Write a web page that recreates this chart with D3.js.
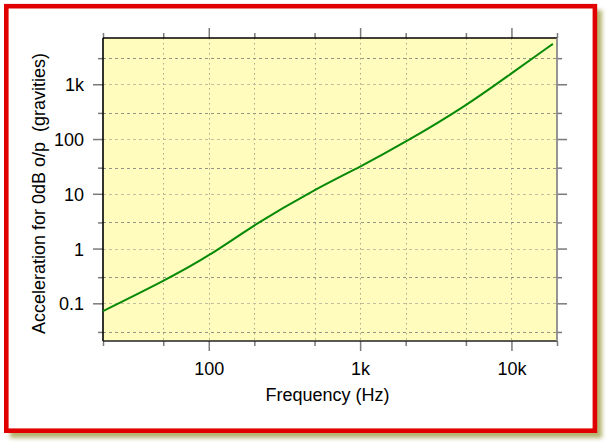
<!DOCTYPE html>
<html>
<head>
<meta charset="utf-8">
<script src="https://cdn.jsdelivr.net/npm/d3@7"></script>
<style>
  html, body { margin: 0; padding: 0; background: #ffffff; }
  svg { display: block; }
  text { font-family: "Liberation Sans", Arial, Helvetica, sans-serif; fill: #000; }
</style>
</head>
<body>
<svg id="chart" width="609" height="446"></svg>
<script>
// ---- data ----
const frequencyHz = [20, 50, 100, 200, 500, 1000, 2000, 5000, 10000, 18800];
const accelerationG = [0.072, 0.252, 0.72, 2.75, 12.0, 31, 88, 400, 1590, 5460];

const xMajorTicks = [100, 1000, 10000];
const xMinorTicks = [20, 50, 200, 500, 2000, 5000, 20000];
const yMajorTicks = [0.1, 1, 10, 100, 1000];
const yMinorTicks = [0.03, 0.3, 3, 30, 300, 3000];
const tickLabel = {0.1: "0.1", 1: "1", 10: "10", 100: "100", 1000: "1k", 10000: "10k"};

const xTitle = "Frequency (Hz)";
const yTitle = "Acceleration for 0dB o/p  (gravities)";

// ---- layout ----
const svg = d3.select("#chart");
const plot = {left: 103, right: 557, top: 38, bottom: 341};

const x = d3.scaleLog().domain([20, 20000]).range([plot.left, plot.right]);
const y = d3.scaleLog().domain([0.0205, 7000]).range([plot.bottom, plot.top]);

// ---- frame with shadow ----
const defs = svg.append("defs");
const f = defs.append("filter").attr("id", "shadow")
  .attr("x", "-5%").attr("y", "-5%").attr("width", "110%").attr("height", "110%");
f.append("feGaussianBlur").attr("stdDeviation", 2.2);

svg.append("rect")
  .attr("x", 10).attr("y", 10).attr("width", 592).attr("height", 428)
  .attr("fill", "#b4b470").attr("filter", "url(#shadow)");
svg.append("rect")
  .attr("x", 6.3).attr("y", 6.2).attr("width", 588.6).attr("height", 424.5)
  .attr("fill", "#ffffff").attr("stroke", "#e00000").attr("stroke-width", 4.6);

// ---- plot background ----
svg.append("rect")
  .attr("x", plot.left).attr("y", plot.top)
  .attr("width", plot.right - plot.left).attr("height", plot.bottom - plot.top)
  .attr("fill", "#fffcbe");

// ---- grid ----
const grid = svg.append("g");
const vGrid = [50, 100, 200, 500, 1000, 2000, 5000, 10000];
grid.selectAll("line.v").data(vGrid).join("line")
  .attr("x1", d => Math.round(x(d)) + 0.5).attr("x2", d => Math.round(x(d)) + 0.5)
  .attr("y1", plot.top).attr("y2", plot.bottom)
  .attr("stroke", "#a8a888").attr("stroke-width", 1).attr("stroke-dasharray", "1.5,3.5");
const hGrid = yMajorTicks.concat(yMinorTicks);
grid.selectAll("line.h").data(hGrid).join("line")
  .attr("x1", plot.left).attr("x2", plot.right)
  .attr("y1", d => Math.round(y(d)) + 0.5).attr("y2", d => Math.round(y(d)) + 0.5)
  .attr("stroke", d => yMinorTicks.includes(d) ? "#959585" : "#c0c0a0")
  .attr("stroke-width", 1).attr("stroke-dasharray", "3,3");

// ---- axes ----
function styleAxis(g) {
  g.select(".domain").remove();
  g.selectAll(".tick line").attr("stroke", "#7a7a7a").attr("stroke-width", 1.5);
  g.selectAll(".tick text")
    .attr("font-family", "Liberation Sans, Arial, sans-serif")
    .attr("font-size", 18).attr("fill", "#000");
}
const fmt = d => tickLabel[d] || "";

// left
svg.append("g").attr("transform", `translate(${plot.left},0)`)
  .call(d3.axisLeft(y).tickValues(yMajorTicks).tickSize(10).tickPadding(9).tickFormat(fmt))
  .call(styleAxis)
  .call(g => g.selectAll(".tick text").attr("dy", "0.36em"));
svg.append("g").attr("transform", `translate(${plot.left},0)`)
  .call(d3.axisLeft(y).tickValues(yMinorTicks).tickSize(5).tickFormat(""))
  .call(styleAxis);
// right
svg.append("g").attr("transform", `translate(${plot.right},0)`)
  .call(d3.axisRight(y).tickValues(yMajorTicks).tickSize(10).tickFormat(""))
  .call(styleAxis);
svg.append("g").attr("transform", `translate(${plot.right},0)`)
  .call(d3.axisRight(y).tickValues(yMinorTicks).tickSize(5).tickFormat(""))
  .call(styleAxis);
// bottom
svg.append("g").attr("transform", `translate(0,${plot.bottom})`)
  .call(d3.axisBottom(x).tickValues(xMajorTicks).tickSize(10).tickPadding(11).tickFormat(fmt))
  .call(styleAxis);
svg.append("g").attr("transform", `translate(0,${plot.bottom})`)
  .call(d3.axisBottom(x).tickValues(xMinorTicks).tickSize(5).tickFormat(""))
  .call(styleAxis);
// top
svg.append("g").attr("transform", `translate(0,${plot.top})`)
  .call(d3.axisTop(x).tickValues(xMajorTicks).tickSize(10).tickFormat(""))
  .call(styleAxis);
svg.append("g").attr("transform", `translate(0,${plot.top})`)
  .call(d3.axisTop(x).tickValues(xMinorTicks).tickSize(5).tickFormat(""))
  .call(styleAxis);

// ---- plot border ----
svg.append("line").attr("x1", plot.left).attr("x2", plot.right).attr("y1", plot.top).attr("y2", plot.top)
  .attr("stroke", "#000").attr("stroke-width", 1.6);
svg.append("line").attr("x1", plot.left).attr("x2", plot.left).attr("y1", plot.top).attr("y2", plot.bottom)
  .attr("stroke", "#000").attr("stroke-width", 1.6);
svg.append("line").attr("x1", plot.left).attr("x2", plot.right).attr("y1", plot.bottom).attr("y2", plot.bottom)
  .attr("stroke", "#222").attr("stroke-width", 1.6);
svg.append("line").attr("x1", plot.right).attr("x2", plot.right).attr("y1", plot.top).attr("y2", plot.bottom)
  .attr("stroke", "#8a8a8a").attr("stroke-width", 1.8);

// ---- curve ----
const pts = frequencyHz.map((f, i) => [f, accelerationG[i]]);
svg.append("path")
  .datum(pts)
  .attr("fill", "none")
  .attr("stroke", "#078a07")
  .attr("stroke-width", 2)
  .attr("d", d3.line().x(d => x(d[0])).y(d => y(d[1])).curve(d3.curveBasis));

// ---- titles ----
svg.append("text")
  .attr("x", 327.5).attr("y", 401)
  .attr("text-anchor", "middle").attr("font-size", 18)
  .text(xTitle);
svg.append("text")
  .attr("transform", "translate(45,193.5) rotate(-90)")
  .attr("text-anchor", "middle").attr("font-size", 18)
  .style("white-space", "pre")
  .text(yTitle);
</script>
</body>
</html>
